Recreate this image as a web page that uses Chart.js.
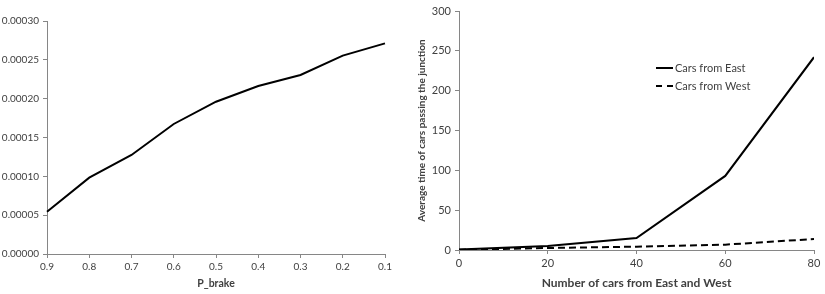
<!DOCTYPE html>
<html>
<head>
<meta charset="utf-8">
<script src="https://cdn.jsdelivr.net/npm/chart.js@4"></script>
<style>
  body { margin: 0; background: #fff; }
  .wrap { position: absolute; top: 0; height: 294px; }
  #leftWrap { left: 0; width: 410px; }
  #rightWrap { left: 410px; width: 415px; }
</style>
</head>
<body>
<div class="wrap" id="leftWrap"><canvas id="leftChart"></canvas></div>
<div class="wrap" id="rightWrap"><canvas id="rightChart"></canvas></div>
<script>
// left chart data
const brakeLabels = ["0.9", "0.8", "0.7", "0.6", "0.5", "0.4", "0.3", "0.2", "0.1"];
const brakeValues = [0.0000545, 0.0000983, 0.0001275, 0.0001674, 0.0001961, 0.0002163, 0.0002305, 0.0002554, 0.0002712];

// right chart data
const carCounts = [0, 20, 40, 60, 80];
const eastTimes = [0.5, 5, 15, 93, 242];
const westTimes = [0.3, 2.5, 4.2, 6.7, 13.8];

const FONT = "Lato, 'Open Sans', sans-serif";
const TEXT = "#404040";
const AXIS = "#868686";

Chart.defaults.font.family = FONT;
Chart.defaults.color = TEXT;

function axisGrid() {
  return { drawOnChartArea: false, drawTicks: true, tickLength: 4, color: AXIS, lineWidth: 1 };
}

// fixed-size axes so the plot areas land where the reference has them
function fixWidth(w) { return (s) => { s.width = w; }; }
function fixHeight(h) { return (s) => { s.height = h; }; }

new Chart(document.getElementById("leftChart"), {
  type: "line",
  data: {
    labels: brakeLabels,
    datasets: [{
      data: brakeValues,
      borderColor: "#000",
      borderWidth: 2,
      pointRadius: 0,
      tension: 0,
      fill: false
    }]
  },
  options: {
    responsive: true,
    maintainAspectRatio: false,
    animation: false,
    layout: { padding: { top: 21, right: 25, left: 0, bottom: 0 } },
    plugins: { legend: { display: false }, tooltip: { enabled: false } },
    scales: {
      x: {
        type: "category",
        offset: false,
        grid: axisGrid(),
        border: { color: AXIS },
        ticks: { font: { size: 10 }, color: TEXT, padding: 3, maxRotation: 0 },
        title: { display: true, text: "P_brake", font: { size: 10.5, weight: "bold" }, color: TEXT, padding: { top: 2 } },
        afterFit: fixHeight(40)
      },
      y: {
        min: 0,
        max: 0.0003,
        grid: axisGrid(),
        border: { color: AXIS },
        ticks: {
          stepSize: 0.00005,
          font: { size: 10 },
          color: TEXT,
          padding: 4,
          callback: (v) => v.toFixed(5)
        },
        afterFit: fixWidth(47)
      }
    }
  }
});

// legend drawn inside the plot area, like the spreadsheet original
const insideLegend = {
  id: "insideLegend",
  afterDraw(chart) {
    const ctx = chart.ctx;
    const area = chart.chartArea;
    const x0 = area.left + 197;
    const rows = [
      { text: "Cars from East", dash: [], y: area.top + 57 },
      { text: "Cars from West", dash: [6, 5], y: area.top + 75 }
    ];
    ctx.save();
    ctx.font = "11px " + FONT;
    ctx.fillStyle = TEXT;
    ctx.textBaseline = "middle";
    rows.forEach((r) => {
      ctx.beginPath();
      ctx.setLineDash(r.dash);
      ctx.lineWidth = 2;
      ctx.strokeStyle = "#000";
      ctx.moveTo(x0, r.y);
      ctx.lineTo(x0 + 17, r.y);
      ctx.stroke();
      ctx.setLineDash([]);
      ctx.fillText(r.text, x0 + 19, r.y);
    });
    ctx.restore();
  }
};

new Chart(document.getElementById("rightChart"), {
  type: "line",
  data: {
    labels: carCounts,
    datasets: [
      {
        label: "Cars from East",
        data: carCounts.map((c, i) => ({ x: c, y: eastTimes[i] })),
        borderColor: "#000",
        borderWidth: 2,
        pointRadius: 0,
        tension: 0,
        fill: false
      },
      {
        label: "Cars from West",
        data: carCounts.map((c, i) => ({ x: c, y: westTimes[i] })),
        borderColor: "#000",
        borderWidth: 2,
        borderDash: [7, 4],
        pointRadius: 0,
        tension: 0,
        fill: false
      }
    ]
  },
  options: {
    responsive: true,
    maintainAspectRatio: false,
    animation: false,
    layout: { padding: { top: 11, right: 11, left: 0, bottom: 0 } },
    plugins: { legend: { display: false }, tooltip: { enabled: false } },
    scales: {
      x: {
        type: "linear",
        min: 0,
        max: 80,
        grid: axisGrid(),
        border: { color: AXIS },
        ticks: { stepSize: 20, font: { size: 11 }, color: TEXT, padding: 3 },
        title: { display: true, text: "Number of cars from East and West", font: { size: 12, weight: "bold" }, color: TEXT, padding: { top: 3 } },
        afterFit: fixHeight(44)
      },
      y: {
        min: 0,
        max: 300,
        grid: axisGrid(),
        border: { color: AXIS },
        ticks: { stepSize: 50, font: { size: 11 }, color: TEXT, padding: 4 },
        title: { display: true, text: "Average time of cars passing the junction", font: { size: 10, weight: "bold" }, color: TEXT, padding: { top: 6, bottom: 0 } },
        afterFit: fixWidth(49)
      }
    }
  },
  plugins: [insideLegend]
});
</script>
</body>
</html>
